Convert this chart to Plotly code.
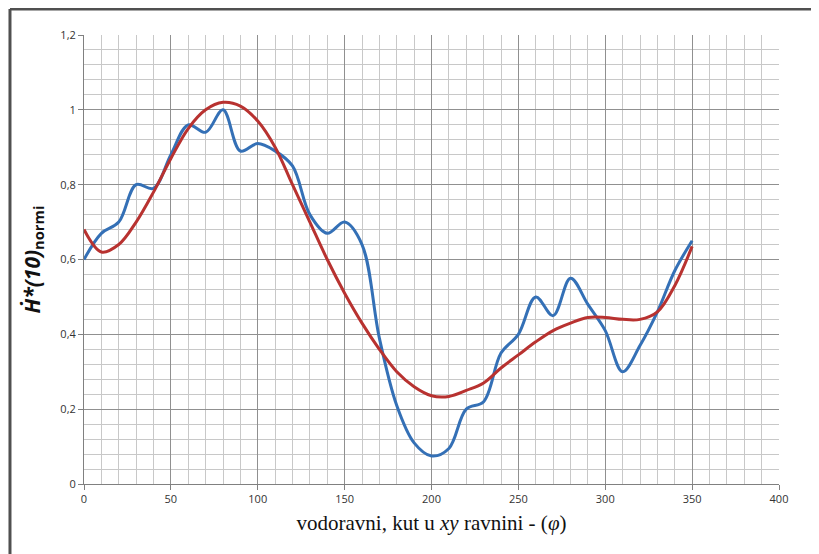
import plotly.graph_objects as go

angle = [0, 10, 20, 30, 40, 50, 60, 70, 80, 90, 100, 110, 120, 130, 140, 150, 160, 170,
         180, 190, 200, 210, 220, 230, 240, 250, 260, 270, 280, 290, 300, 310, 320, 330, 340, 350]

measured = [0.60, 0.67, 0.70, 0.80, 0.79, 0.88, 0.96, 0.94, 1.00, 0.89, 0.91, 0.89, 0.85, 0.72,
            0.67, 0.70, 0.64, 0.39, 0.21, 0.11, 0.075, 0.095, 0.20, 0.22, 0.35, 0.40, 0.50, 0.45,
            0.55, 0.48, 0.41, 0.30, 0.37, 0.46, 0.57, 0.65]

fitted = [0.68, 0.62, 0.64, 0.70, 0.78, 0.87, 0.95, 1.00, 1.02, 1.01, 0.97, 0.90, 0.80, 0.70,
          0.60, 0.51, 0.43, 0.36, 0.30, 0.26, 0.236, 0.234, 0.25, 0.27, 0.31, 0.345, 0.38, 0.41,
          0.43, 0.445, 0.445, 0.44, 0.44, 0.46, 0.53, 0.635]

x_ticks = [0, 50, 100, 150, 200, 250, 300, 350, 400]
y_ticks = [0, 0.2, 0.4, 0.6, 0.8, 1.0, 1.2]
y_tick_text = ["0", "0,2", "0,4", "0,6", "0,8", "1", "1,2"]

fig = go.Figure()
fig.add_trace(go.Scatter(x=angle, y=measured, mode="lines",
                         line=dict(color="#3470b6", width=3, shape="spline", smoothing=1.0),
                         showlegend=False))
fig.add_trace(go.Scatter(x=angle, y=fitted, mode="lines",
                         line=dict(color="#b83230", width=3, shape="spline", smoothing=1.0),
                         showlegend=False))

tick_font = dict(family="Open Sans", size=11, color="#333333")

fig.update_xaxes(range=[0, 400], tickvals=x_ticks, tickfont=tick_font,
                 showgrid=True, gridcolor="#909090", gridwidth=1,
                 minor=dict(dtick=10, showgrid=True, gridcolor="#c8c8c8", gridwidth=1),
                 showline=True, linecolor="#808080", linewidth=1,
                 ticks="outside", ticklen=5, tickcolor="#808080",
                 zeroline=False, fixedrange=True, automargin=False,
                 title=dict(text="vodoravni, kut u <i>xy</i> ravnini - (<i>φ</i>)",
                            font=dict(family="Liberation Serif, Times New Roman, serif", size=21, color="#111111"),
                            standoff=10))
fig.update_yaxes(range=[0, 1.2], tickvals=y_ticks, ticktext=y_tick_text, tickfont=tick_font,
                 showgrid=True, gridcolor="#909090", gridwidth=1,
                 minor=dict(dtick=0.04, showgrid=True, gridcolor="#c8c8c8", gridwidth=1),
                 showline=True, linecolor="#808080", linewidth=1,
                 ticks="outside", ticklen=5, tickcolor="#808080",
                 zeroline=False, fixedrange=True, automargin=False,
                 title=dict(text="<b><i>Ḣ*(10)</i><sub>normi</sub></b>",
                            font=dict(family="Open Sans", size=21, color="#111111"),
                            standoff=14))

# outer frame lines (left and top)
fig.add_shape(type="line", xref="paper", yref="paper", x0=-0.1065, x1=-0.1065, y0=1.058, y1=-0.2,
              line=dict(color="#505050", width=3))
fig.add_shape(type="line", xref="paper", yref="paper", x0=-0.1065, x1=1.1, y0=1.058, y1=1.058,
              line=dict(color="#505050", width=3))

fig.update_layout(width=811, height=546,
                  margin=dict(l=76, r=40, t=27, b=70),
                  paper_bgcolor="white", plot_bgcolor="white",
                  separators=",.")

fig.write_html("out.html")
